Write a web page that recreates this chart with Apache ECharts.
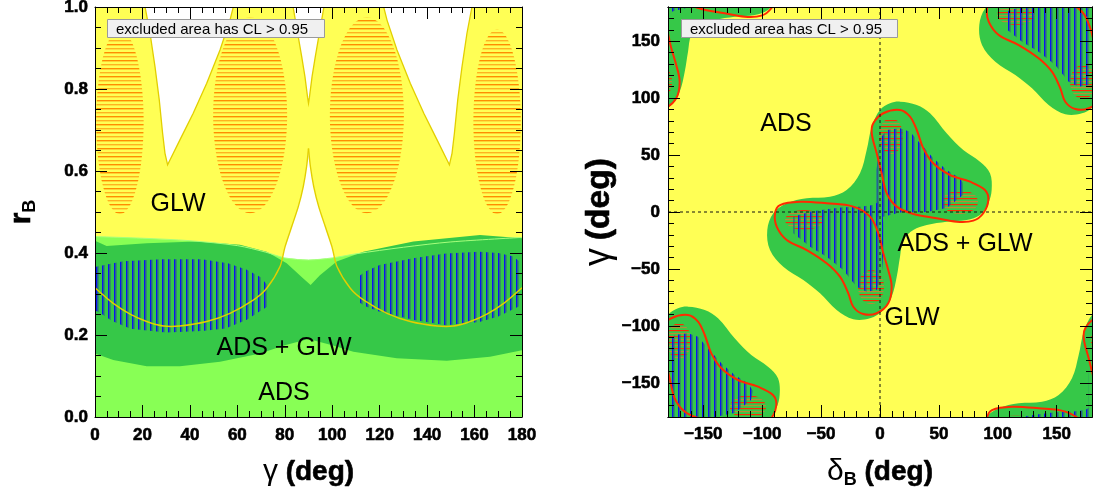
<!DOCTYPE html>
<html><head><meta charset="utf-8">
<script src="https://cdn.jsdelivr.net/npm/echarts@6/dist/echarts.min.js"></script>
<style>html,body{margin:0;padding:0;background:#fff}#c{width:1093px;height:491px}</style>
</head><body><div id="c"></div>
<script>
// ================= LEFT PANEL: gamma (deg) vs r_B =================
const gammaTicks = [0, 20, 40, 60, 80, 100, 120, 140, 160, 180];
const rbTicks = [0, 0.2, 0.4, 0.6, 0.8, 1.0];
// GLW 95% CL contour: lower edge (left U, cusp at 90, right U)
const glwLowerLeft = [[0,0.315],[7.7,0.277],[14.8,0.251],[21.8,0.233],[28.8,0.222],[35.8,0.222],[47.1,0.233],[56.9,0.253],[66.7,0.285],[72.4,0.314],[78,0.367],[80.1,0.415],[82.9,0.464],[85.7,0.513],[87.8,0.562],[89.2,0.611],[90,0.655]];
const glwLowerRight = [[90,0.655],[90.8,0.611],[92.2,0.562],[94.3,0.513],[97.1,0.464],[99.9,0.415],[102,0.367],[107.6,0.314],[113.3,0.285],[123.1,0.253],[132.9,0.233],[144.2,0.222],[151.2,0.222],[158.2,0.233],[165.2,0.251],[172.3,0.277],[180,0.315]];
// GLW excluded wedges (open at the top of the frame)
const glwWedgeA = [[21.1,1.0],[23.2,0.936],[25.3,0.854],[27.1,0.773],[28.5,0.692],[29.5,0.643],[30.6,0.615],[31.6,0.627],[35.8,0.676],[41.4,0.741],[47.1,0.814],[52.7,0.895],[56.9,0.968],[58.3,1.0]];
const glwWedgeB = [[83.5,1.0],[85.6,0.93],[87.1,0.88],[88.5,0.83],[89.6,0.78],[90,0.765],[90.4,0.78],[91.5,0.83],[92.9,0.88],[94.4,0.93],[96.5,1.0]];
const glwWedgeC = [[121.7,1.0],[123.1,0.968],[127.3,0.895],[132.9,0.814],[138.6,0.741],[144.2,0.676],[148.4,0.627],[149.4,0.615],[150.5,0.643],[151.5,0.692],[152.9,0.773],[154.7,0.854],[156.8,0.936],[158.9,1.0]];
// GLW 68% islands: [gamma centre, r centre, half width, half height]
const glwCoreL = [[10.5,0.72,10,0.225],[65.4,0.736,15.6,0.239],[114.6,0.736,15.6,0.239],[169.5,0.72,10,0.225]];
// ADS region upper edge
const adsTop = [[0,0.44],[20,0.436],[40,0.43],[60,0.418],[72,0.402],[80,0.388],[90,0.383],[100,0.388],[110,0.398],[130,0.414],[150,0.427],[180,0.438]];
// ADS+GLW 95% region
const comboTop = [[0,0.43],[4.9,0.417],[21.8,0.424],[42.9,0.428],[61.1,0.42],[72.4,0.403],[80.8,0.375],[87.8,0.338],[90.9,0.322],[94.8,0.346],[101.9,0.379],[113.1,0.403],[134.2,0.428],[162.3,0.444],[180,0.436]];
const comboBottom = [[0,0.155],[7.7,0.139],[21.8,0.124],[35.8,0.124],[52.7,0.135],[69.6,0.155],[80,0.175],[90,0.19],[100,0.175],[108.9,0.159],[127.2,0.143],[148.3,0.137],[166.5,0.147],[180,0.163]];
// ADS+GLW 68% islands
const comboCoreA = [[0,0.366],[5,0.372],[12,0.38],[28,0.385],[45,0.385],[56,0.375],[64,0.359],[70,0.34],[73.5,0.315],[73.5,0.272],[70,0.26],[64,0.237],[55,0.216],[45,0.21],[30,0.206],[15,0.215],[7,0.235],[2,0.255],[0,0.26]];
const comboCoreB = [[111,0.342],[114,0.355],[120,0.371],[134,0.387],[148,0.399],[162,0.403],[170,0.40],[176,0.392],[180,0.375],[180,0.273],[176,0.262],[170,0.245],[162,0.232],[148,0.224],[134,0.237],[120,0.257],[114,0.27],[111,0.281]];

// ================= RIGHT PANEL: delta_B (deg) vs gamma (deg) =================
const angleTicks = [-150, -100, -50, 0, 50, 100, 150];
// ADS+GLW 95% region (one period cell)
const combo2Shape = [[17.0,96.9],[31.2,94.0],[42.5,86.7],[56.6,69.1],[70.7,54.4],[84.9,44.2],[93.4,34.0],[94.8,19.3],[91.9,7.6],[84.9,-2.6],[73.6,-7.0],[56.6,-8.5],[39.7,-11.4],[28.3,-15.8],[19.8,-24.6],[17.0,-39.2],[14.2,-56.8],[9.9,-74.4],[2.8,-86.0],[-8.5,-93.3],[-22.7,-94.2],[-36.8,-86.0],[-50.9,-71.4],[-65.1,-59.7],[-82.1,-48.0],[-93.4,-33.4],[-95.7,-15.8],[-90.6,-1.1],[-79.2,7.6],[-62.2,12.0],[-42.5,13.4],[-28.3,19.3],[-17.0,34.0],[-11.3,54.4],[-7.0,74.9],[0,89.6],[8.5,95.4]];
// ADS+GLW 68% islands
const combo2CoreA = [[-2.8,36.9],[-0.8,63.2],[5.7,72.0],[17.0,73.5],[25.5,70.5],[34.0,60.3],[45.3,47.2],[56.6,36.9],[67.9,29.6],[72.2,22.8],[70.5,14.9],[56.6,3.5],[39.7,0],[17.0,-0.4],[2.8,-4.1],[-2.8,-4.1]];
const combo2CoreB = [[-73.6,-4.1],[-59.4,0.3],[-45.3,2.4],[-31.2,4.1],[-17.0,4.7],[-5.7,6.1],[1.4,10.5],[2.8,-9.9],[2.8,-33.4],[1.4,-56.8],[-2.8,-68.5],[-11.3,-70.0],[-19.8,-65.6],[-31.2,-50.9],[-45.3,-39.2],[-59.4,-30.5],[-73.6,-18.7]];
// red contour (ADS alone, 95%)
const adsContourA = [[-5.7,77.9],[2.8,86.7],[17.0,89.6],[25.5,83.7],[31.2,72.0],[36.8,55.9],[45.3,42.8],[59.4,32.5],[76.4,26.6],[89.1,19.3],[92.0,10.5],[87.7,-1.1],[79.2,-7.6],[65.1,-8.5],[48.1,-5.5],[28.3,-1.8],[14.2,4.7],[5.7,16.4],[1.4,34.0],[-2.8,51.5],[-7.0,69.1]];
const adsContourB = [[-84.9,6.1],[-67.9,9.0],[-45.3,7.6],[-22.7,4.7],[-8.5,-4.1],[-1.4,-18.7],[2.8,-36.3],[7.0,-50.9],[9.9,-65.6],[7.0,-80.2],[-2.8,-88.9],[-14.2,-89.6],[-22.7,-83.2],[-26.9,-71.4],[-34.0,-56.8],[-45.3,-45.0],[-62.2,-33.4],[-79.2,-24.6],[-87.7,-12.9],[-89.1,-1.1]];
// GLW 68% islands: [delta centre, gamma centre, half width, half height]
const glwCoreR = [[9.3,66.7,10.2,15.8],[67.9,8.8,15.3,10.5],[-64.5,-7.0,16.1,8.8],[-7.6,-65.9,11,15]];
// the (delta, gamma) plane repeats under (delta+180, gamma+180)
const periodicImages = [[0,0],[180,180],[-180,-180],[180,-180],[-180,180]];

// ================= styling helpers =================
const F = "'Liberation Sans', Arial, Helvetica, sans-serif";
const YEL = '#ffff55', YEL_LINE = '#e2cf00', LGREEN = '#88ff55', DGREEN = '#36c848', RED = '#ff2a00';

function tile(w, h, draw) { const c = document.createElement('canvas'); c.width = w; c.height = h; draw(c.getContext('2d')); return c; }
const blueHatch = { image: tile(6, 6, g => { g.fillStyle = '#0b12f2'; g.fillRect(0, 0, 1.5, 6); g.fillStyle = '#2a5f86'; g.fillRect(1.5, 0, 1, 6); }), repeat: 'repeat' };
const orangeHatch = { image: tile(4, 8, g => { g.fillStyle = '#ffb21e'; g.fillRect(0, 0, 4, 1.4); g.fillStyle = '#ff8c00'; g.fillRect(0, 4, 4, 1.4); }), repeat: 'repeat' };
const redHatch = { image: tile(4, 6, g => { g.fillStyle = '#ff2a00'; g.fillRect(0, 0, 4, 1.2); g.fillStyle = '#b98a35'; g.fillRect(0, 3, 4, 1.2); }), repeat: 'repeat' };

function shapeSeries(grid, shapes, kind, style, smooth, offsets) {
  const ax = grid === 0 ? 0 : 2;
  const offs = offsets || [[0, 0]];
  const data = [];
  shapes.forEach((s, i) => offs.forEach((o, j) => data.push([i, j])));
  return {
    type: 'custom', coordinateSystem: 'cartesian2d', xAxisIndex: ax, yAxisIndex: ax,
    clip: true, silent: true, z: 2, data,
    renderItem(params, api) {
      const s = shapes[api.value(0)], o = offs[api.value(1)];
      const pts = s.map(p => api.coord([p[0] + o[0], p[1] + o[1]]));
      return { type: kind, shape: { points: pts, smooth: smooth || 0 }, style: Object.assign({}, style) };
    }
  };
}
function ellipseSeries(grid, list, style, offsets) {
  const ax = grid === 0 ? 0 : 2;
  const offs = offsets || [[0, 0]];
  const data = [];
  list.forEach((e, i) => offs.forEach((o, j) => data.push([i, j])));
  return {
    type: 'custom', coordinateSystem: 'cartesian2d', xAxisIndex: ax, yAxisIndex: ax,
    clip: true, silent: true, z: 2, data,
    renderItem(params, api) {
      const e = list[api.value(0)], o = offs[api.value(1)];
      const c = api.coord([e[0] + o[0], e[1] + o[1]]);
      const c2 = api.coord([e[0] + o[0] + e[2], e[1] + o[1] + e[3]]);
      const rx = Math.abs(c2[0] - c[0]), ry = Math.abs(c2[1] - c[1]);
      const pts = [];
      for (let t = 0; t < 64; t++) { const a = 2 * Math.PI * t / 64; pts.push([c[0] + rx * Math.cos(a), c[1] + ry * Math.sin(a)]); }
      return { type: 'polygon', shape: { points: pts }, style: Object.assign({}, style) };
    }
  };
}

// ================= axes =================
const labelStyle = { show: true, color: '#000', fontFamily: F, fontWeight: 'bold', fontSize: 17, textBorderColor: '#000', textBorderWidth: 0.6 };
const minus = v => String(Math.round(v * 100) / 100).replace('-', '\u2212');
function axis(o) {
  const a = {
    type: 'value', gridIndex: o.grid, position: o.pos, min: o.min, max: o.max, interval: o.interval,
    z: 20, silent: true, axisPointer: { show: false },
    axisLine: { show: true, onZero: false, lineStyle: { color: '#000', width: 1 } },
    splitLine: { show: false },
    axisTick: { show: true, inside: true, length: o.tickLen || 12, lineStyle: { color: '#000', width: 1 } },
    minorTick: { show: !!o.minor, splitNumber: o.minor || 5, length: 6, lineStyle: { color: '#000', width: 1 } },
    axisLabel: { show: false }
  };
  if (o.ticks) a.axisTick.customValues = o.ticks;
  if (o.labels) a.axisLabel = Object.assign({}, labelStyle, { customValues: o.labels, margin: o.margin, formatter: o.fmt || minus });
  if (o.name) {
    a.name = o.name; a.nameLocation = 'middle'; a.nameGap = o.nameGap;
    a.nameTextStyle = { color: '#000', fontFamily: F, fontSize: 28, fontWeight: 'bold', rich: o.rich };
  }
  return a;
}
function richTitle(k) {
  return {
    g: { fontFamily: F, fontSize: 30 * k, fontWeight: 'normal', color: '#000', lineHeight: 34 * k, verticalAlign: 'middle' },
    b: { fontFamily: F, fontSize: 28 * k, fontWeight: 'bold', color: '#000', lineHeight: 34 * k, verticalAlign: 'middle', textBorderColor: '#000', textBorderWidth: 0.6 },
    r: { fontFamily: F, fontSize: 30 * k, fontWeight: 'bold', color: '#000', lineHeight: 34 * k, verticalAlign: 'middle', textBorderColor: '#000', textBorderWidth: 0.6 },
    s: { fontFamily: F, fontSize: 18 * k, fontWeight: 'bold', color: '#000', lineHeight: 18 * k, verticalAlign: 'bottom' }
  };
}

const xAxis = [
  axis({ grid: 0, pos: 'bottom', min: 0, max: 180, interval: 20, minor: 4, ticks: gammaTicks, labels: gammaTicks, margin: 10,
         name: '{g|\u03b3} {b|(deg)}', nameGap: 38, rich: richTitle(1) }),
  axis({ grid: 0, pos: 'top', min: 0, max: 180, interval: 20, minor: 4, ticks: gammaTicks }),
  axis({ grid: 1, pos: 'bottom', min: -180, max: 180, interval: 10, ticks: angleTicks, labels: angleTicks, margin: 9,
         name: '{g|\u03b4}{s|B} {b|(deg)}', nameGap: 38, rich: richTitle(1) }),
  axis({ grid: 1, pos: 'bottom', min: -180, max: 180, interval: 10, tickLen: 6 }),
  axis({ grid: 1, pos: 'top', min: -180, max: 180, interval: 10, tickLen: 6 }),
  axis({ grid: 1, pos: 'top', min: -180, max: 180, interval: 10, ticks: angleTicks })
];
const yAxis = [
  axis({ grid: 0, pos: 'left', min: 0, max: 1, interval: 0.2, minor: 4, ticks: rbTicks, labels: rbTicks, margin: 7, fmt: v => v.toFixed(1),
         name: '{r|r}{s|B}', nameGap: 56, rich: richTitle(1) }),
  axis({ grid: 0, pos: 'right', min: 0, max: 1, interval: 0.2, minor: 4, ticks: rbTicks }),
  axis({ grid: 1, pos: 'left', min: -180, max: 180, interval: 10, ticks: angleTicks, labels: angleTicks, margin: 8,
         name: '{g|\u03b3} {b|(deg)}', nameGap: 44, rich: richTitle(1.2) }),
  axis({ grid: 1, pos: 'left', min: -180, max: 180, interval: 10, tickLen: 6 }),
  axis({ grid: 1, pos: 'right', min: -180, max: 180, interval: 10, tickLen: 6 }),
  axis({ grid: 1, pos: 'right', min: -180, max: 180, interval: 10, ticks: angleTicks })
];

// ================= series =================
const series = [
  // left panel
  shapeSeries(0, [glwLowerLeft.concat(glwLowerRight.slice(1), [[180, 1], [0, 1]])], 'polygon', { fill: YEL }),
  shapeSeries(0, [glwWedgeA, glwWedgeB, glwWedgeC], 'polygon', { fill: '#fff' }),
  shapeSeries(0, [glwWedgeA, glwWedgeB, glwWedgeC], 'polyline', { fill: null, stroke: YEL_LINE, lineWidth: 1.3 }),
  ellipseSeries(0, glwCoreL, { fill: orangeHatch }),
  shapeSeries(0, [[[0, 0], [180, 0]].concat(adsTop.slice().reverse())], 'polygon', { fill: LGREEN }),
  shapeSeries(0, [comboTop.concat(comboBottom.slice().reverse())], 'polygon', { fill: DGREEN }),
  shapeSeries(0, [adsTop], 'polyline', { fill: null, stroke: '#a6ff7c', lineWidth: 1 }, 0.3),
  shapeSeries(0, [comboCoreA, comboCoreB], 'polygon', { fill: blueHatch }),
  shapeSeries(0, [glwLowerLeft, glwLowerRight], 'polyline', { fill: null, stroke: YEL_LINE, lineWidth: 1.4 }, 0.25),
  // right panel
  shapeSeries(1, [[[-180, -180], [180, -180], [180, 180], [-180, 180]]], 'polygon', { fill: YEL }),
  shapeSeries(1, [combo2Shape], 'polygon', { fill: DGREEN }, 0.35, periodicImages),
  ellipseSeries(1, glwCoreR, { fill: redHatch }, periodicImages),
  shapeSeries(1, [combo2CoreA, combo2CoreB], 'polygon', { fill: blueHatch }, 0, periodicImages),
  shapeSeries(1, [adsContourA, adsContourB], 'polygon', { fill: null, stroke: RED, lineWidth: 2 }, 0.35, periodicImages),
  { type: 'line', xAxisIndex: 2, yAxisIndex: 2, data: [[0, -180], [0, 180]], showSymbol: false, silent: true, z: 3,
    lineStyle: { color: '#111', width: 1, type: [3, 3] } },
  { type: 'line', xAxisIndex: 2, yAxisIndex: 2, data: [[-180, 0], [180, 0]], showSymbol: false, silent: true, z: 3,
    lineStyle: { color: '#111', width: 1, type: [3, 3] } }
];

// ================= annotations =================
function label(text, x, y) {
  return { type: 'text', z: 60, style: { text, x, y, fill: '#000', font: '25px ' + F, align: 'center', verticalAlign: 'middle' } };
}
function clBox(x, w) {
  return [
    { type: 'rect', z: 60, shape: { x: x + 0.5, y: 19.5, width: w, height: 18 }, style: { fill: '#f0f0f0', stroke: '#9a9a9a', lineWidth: 1 } },
    { type: 'text', z: 61, style: { text: 'excluded area has CL > 0.95', x: x + 9, y: 29.5, fill: '#000', font: '15px ' + F, align: 'left', verticalAlign: 'middle' } }
  ];
}
const graphic = [
  ...clBox(107, 217), ...clBox(681, 216),
  label('GLW', 178, 204), label('ADS + GLW', 284, 348), label('ADS', 284, 393),
  label('ADS', 786, 124), label('ADS + GLW', 965, 244), label('GLW', 912, 318)
];

const chart = echarts.init(document.getElementById('c'), null, { renderer: 'canvas' });
chart.setOption({
  animation: false,
  backgroundColor: '#fff',
  grid: [
    { left: 95, top: 7, width: 427, height: 410, outerBoundsMode: 'none', containLabel: false },
    { left: 668, top: 7, width: 424, height: 410, outerBoundsMode: 'none', containLabel: false }
  ],
  xAxis, yAxis, series, graphic
});
</script>
</body></html>
